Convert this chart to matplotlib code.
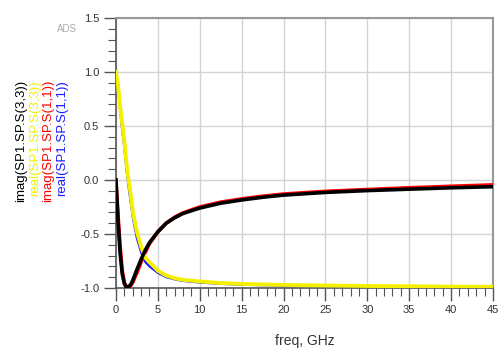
import matplotlib
matplotlib.use("Agg")
import matplotlib.pyplot as plt
from matplotlib.ticker import MultipleLocator, FormatStrFormatter

plt.rcParams['font.family'] = ['Liberation Sans', 'DejaVu Sans']

# frequency points, GHz
freq = [0, 0.25, 0.5, 0.75, 1.0, 1.25, 1.5, 1.75, 2.0, 2.5, 3.0, 3.5, 4, 5, 6, 7, 8,
        10, 12.5, 15, 17.5, 20, 25, 30, 35, 40, 45]

# real(S(1,1)) - blue
real_s11 = [1.0, 0.86, 0.64, 0.46, 0.30, 0.10, -0.06, -0.20, -0.34, -0.54, -0.67, -0.76,
            -0.80, -0.86, -0.90, -0.92, -0.935, -0.95, -0.962, -0.97, -0.975, -0.978,
            -0.984, -0.988, -0.99, -0.992, -0.993]
# imag(S(1,1)) - red
imag_s11 = [0.0, -0.33, -0.62, -0.84, -0.95, -0.99, -0.995, -0.98, -0.95, -0.86, -0.76, -0.67,
            -0.59, -0.48, -0.40, -0.345, -0.305, -0.25, -0.205, -0.175, -0.15, -0.13,
            -0.105, -0.088, -0.072, -0.058, -0.045]
# real(S(3,3)) - yellow
real_s33 = [1.0, 0.88, 0.68, 0.52, 0.36, 0.16, 0.0, -0.13, -0.29, -0.48, -0.62, -0.72,
            -0.76, -0.84, -0.885, -0.91, -0.925, -0.94, -0.955, -0.963, -0.968, -0.972,
            -0.978, -0.982, -0.985, -0.988, -0.99]
# imag(S(3,3)) - black
imag_s33 = [0.0, -0.38, -0.68, -0.87, -0.96, -0.995, -0.99, -0.97, -0.93, -0.83, -0.735, -0.65,
            -0.58, -0.48, -0.40, -0.35, -0.31, -0.26, -0.215, -0.185, -0.16, -0.14,
            -0.115, -0.098, -0.085, -0.072, -0.062]

labels = ['imag(SP1.SP.S(3,3))', 'real(SP1.SP.S(3,3))',
          'imag(SP1.SP.S(1,1))', 'real(SP1.SP.S(1,1))']
label_colors = ['black', '#f5f000', '#ff0000', '#1a1aff']

fig = plt.figure(figsize=(5.02, 3.49), dpi=100)
ax = fig.add_axes([0.231, 0.175, 0.751, 0.773])

ax.plot(freq, real_s11, color='#1a1aff', lw=1.6, zorder=3)
ax.plot(freq, imag_s11, color='#ff0000', lw=2.6, zorder=3)
ax.plot(freq, real_s33, color='#f5f000', lw=2.8, zorder=4)
ax.plot(freq, imag_s33, color='black', lw=2.6, zorder=5)

ax.set_xlim(0, 45)
ax.set_ylim(-1.0, 1.5)
ax.xaxis.set_major_locator(MultipleLocator(5))
ax.xaxis.set_minor_locator(MultipleLocator(1))
ax.yaxis.set_major_locator(MultipleLocator(0.5))
ax.yaxis.set_minor_locator(MultipleLocator(0.1))
ax.yaxis.set_major_formatter(FormatStrFormatter('%.1f'))
ax.grid(True, which='major', color='#d4d4d4', lw=1.0)
ax.set_axisbelow(True)

ax.tick_params(which='major', direction='out', length=9, width=1.0, color='#555555',
               labelsize=8, labelcolor='#333333', pad=3)
ax.tick_params(which='minor', direction='out', length=6, width=0.8, color='#555555')
for s in ['left', 'bottom']:
    ax.spines[s].set_color('#555555')
    ax.spines[s].set_linewidth(1.2)
for s in ['top', 'right']:
    ax.spines[s].set_color('#999999')
    ax.spines[s].set_linewidth(1.5)

ax.set_xlabel('freq, GHz', fontsize=10, color='#333333', labelpad=14)

# stacked y labels, packed close like the ADS plot
xs = [21.5, 35, 48.5, 62]
for lab, col, xp in zip(labels, label_colors, xs):
    fig.text(xp / 502, 1 - 80 / 349, lab, rotation=90, color=col, fontsize=9.5,
             ha='center', va='top')

fig.text(67 / 502, 1 - 29 / 349, 'ADS', color='#aaaaaa', fontsize=7, ha='center', va='center')

fig.savefig('out.png', dpi=100)
